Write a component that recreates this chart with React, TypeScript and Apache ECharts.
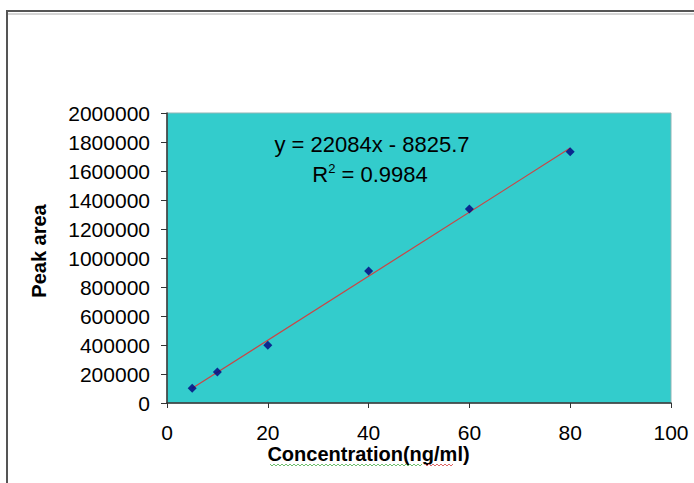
import React, { useEffect, useRef } from "react";
import * as echarts from "echarts";

const concentrations = [5, 10, 20, 40, 60, 80];
const peakAreas = [101000, 214000, 398000, 910000, 1338000, 1733000];
const slope = 22084;
const intercept = -8825.7;
const rSquared = 0.9984;
const trendRange = [5, 80];
const yTicks = [0, 2000000, 200000];
const xTicks = [0, 100, 20];
const xTitle = "Concentration(ng/ml)";
const yTitle = "Peak area";

function squiggle(x1: number, x2: number, y: number) {
  const pts: number[][] = [];
  let up = true;
  for (let x = x1; x <= x2; x += 2) {
    pts.push([x, up ? y - 1 : y + 1]);
    up = !up;
  }
  return pts;
}

export default function App() {
  const ref = useRef<HTMLDivElement>(null);
  useEffect(() => {
    if (!ref.current) return;
    const chart = echarts.init(ref.current, null, { renderer: "svg" });
    const font = "Liberation Sans, Arial, sans-serif";
    const trend = trendRange.map((x) => [x, slope * x + intercept]);
    chart.setOption({
      animation: false,
      backgroundColor: "#ffffff",
      grid: { left: 167, top: 113, right: 23, bottom: 80, show: true, backgroundColor: "#33CCCC", borderColor: "#8fb5b5", borderWidth: 1 },
      xAxis: {
        type: "value",
        min: xTicks[0],
        max: xTicks[1],
        interval: xTicks[2],
        axisLine: { show: true, lineStyle: { color: "#333", width: 1.5 } },
        axisTick: { show: true, inside: false, length: 5, lineStyle: { color: "#333" } },
        splitLine: { show: false },
        axisLabel: { color: "#000", fontSize: 21, fontFamily: font, margin: 19 },
      },
      yAxis: {
        type: "value",
        min: yTicks[0],
        max: yTicks[1],
        interval: yTicks[2],
        axisLine: { show: true, lineStyle: { color: "#333", width: 1.5 } },
        axisTick: { show: true, inside: false, length: 6, lineStyle: { color: "#333" } },
        splitLine: { show: false },
        axisLabel: { color: "#000", fontSize: 21, fontFamily: font, margin: 17, formatter: (v: number) => String(v) },
      },
      series: [
        {
          type: "line",
          data: trend,
          symbol: "none",
          lineStyle: { color: "#CC4444", width: 1.2 },
          z: 2,
        },
        {
          type: "scatter",
          data: concentrations.map((c, i) => [c, peakAreas[i]]),
          symbol: "diamond",
          symbolSize: 9,
          itemStyle: { color: "#000080" },
          z: 3,
        },
      ],
      graphic: [
        { type: "line", shape: { x1: 7, y1: 11, x2: 694, y2: 11 }, style: { stroke: "#555", lineWidth: 2 } },
        { type: "line", shape: { x1: 7, y1: 14, x2: 694, y2: 14 }, style: { stroke: "#aaa", lineWidth: 1 } },
        { type: "line", shape: { x1: 7, y1: 10, x2: 7, y2: 483 }, style: { stroke: "#555", lineWidth: 2 } },
        {
          type: "text",
          x: 372,
          y: 144,
          style: {
            text: `y = ${slope}x - ${Math.abs(intercept)}`,
            fontSize: 22,
            fontFamily: font,
            fill: "#000",
            align: "center",
            verticalAlign: "middle",
          },
        },
        {
          type: "text",
          x: 370,
          y: 174,
          style: {
            text: `{a|R}{s|2}{a| = ${rSquared}}`,
            align: "center",
            verticalAlign: "middle",
            rich: {
              a: { fontSize: 22, fontFamily: font, color: "#000" },
              s: { fontSize: 13, fontFamily: font, color: "#000", verticalAlign: "top", padding: [0, 0, 12, 0] },
            },
          },
        },
        {
          type: "text",
          x: 368.5,
          y: 454,
          style: {
            text: xTitle,
            fontSize: 20,
            fontWeight: "bold",
            fontFamily: font,
            fill: "#000",
            align: "center",
            verticalAlign: "middle",
          },
        },
        {
          type: "text",
          x: 39,
          y: 251,
          rotation: Math.PI / 2,
          style: {
            text: yTitle,
            fontSize: 20,
            fontWeight: "bold",
            fontFamily: font,
            fill: "#000",
            align: "center",
            verticalAlign: "middle",
          },
        },
        { type: "polyline", shape: { points: squiggle(270, 423, 465) }, style: { stroke: "#6fbf6f", lineWidth: 1, fill: "none" } },
        { type: "polyline", shape: { points: squiggle(425, 453, 465) }, style: { stroke: "#d66", lineWidth: 1, fill: "none" } },
      ],
    });
    return () => chart.dispose();
  }, []);
  return <div ref={ref} style={{ width: 694, height: 483, position: "absolute", left: 0, top: 0 }} />;
}
